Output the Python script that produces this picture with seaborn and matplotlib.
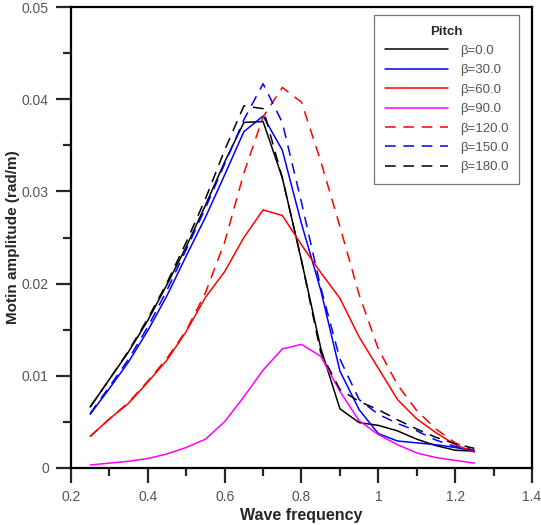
"""Pitch motion amplitude vs wave frequency for several headings."""

import matplotlib

matplotlib.use("Agg")
import matplotlib.pyplot as plt
import numpy as np
import pandas as pd
import seaborn as sns
from matplotlib.ticker import FixedLocator, MultipleLocator

freq = [0.25, 0.30, 0.35, 0.40, 0.45, 0.50, 0.55, 0.60, 0.65, 0.70, 0.75,
        0.80, 0.85, 0.90, 0.95, 1.00, 1.05, 1.10, 1.15, 1.20, 1.25]

beta_0 = [0.0066, 0.0096, 0.0126, 0.0160, 0.0199, 0.0240, 0.0285, 0.0332, 0.0375, 0.0376, 0.0315,
          0.0225, 0.0130, 0.0064, 0.0049, 0.0046, 0.0040, 0.0031, 0.0024, 0.0019, 0.0018]
beta_30 = [0.0058, 0.0086, 0.0115, 0.0149, 0.0187, 0.0230, 0.0272, 0.0318, 0.0365, 0.0382, 0.0345,
           0.0265, 0.0193, 0.0105, 0.0063, 0.0037, 0.0029, 0.0027, 0.0025, 0.0022, 0.0018]
beta_60 = [0.0034, 0.0053, 0.0070, 0.0093, 0.0117, 0.0148, 0.0185, 0.0213, 0.0250, 0.0280, 0.0274,
           0.0242, 0.0212, 0.0184, 0.0142, 0.0108, 0.0074, 0.0053, 0.0038, 0.0025, 0.0017]
beta_90 = [0.0003, 0.0005, 0.0007, 0.0010, 0.0015, 0.0022, 0.0031, 0.0050, 0.0077, 0.0106, 0.0129,
           0.0134, 0.0121, 0.0083, 0.0051, 0.0036, 0.0025, 0.0016, 0.0011, 0.0008, 0.0005]
beta_120 = [0.0034, 0.0053, 0.0071, 0.0094, 0.0119, 0.0149, 0.0190, 0.0245, 0.0320, 0.0381, 0.0413,
            0.0397, 0.0333, 0.0262, 0.0188, 0.0129, 0.0090, 0.0062, 0.0042, 0.0027, 0.0018]
beta_150 = [0.0059, 0.0088, 0.0118, 0.0153, 0.0193, 0.0237, 0.0282, 0.0330, 0.0378, 0.0417, 0.0375,
            0.0288, 0.0196, 0.0118, 0.0074, 0.0058, 0.0048, 0.0040, 0.0030, 0.0023, 0.0019]
beta_180 = [0.0066, 0.0096, 0.0127, 0.0162, 0.0201, 0.0245, 0.0292, 0.0345, 0.0393, 0.0390, 0.0315,
            0.0225, 0.0125, 0.0085, 0.0072, 0.0063, 0.0052, 0.0042, 0.0033, 0.0026, 0.0021]

labels = ["β=0.0", "β=30.0", "β=60.0", "β=90.0", "β=120.0", "β=150.0", "β=180.0"]
series = [beta_0, beta_30, beta_60, beta_90, beta_120, beta_150, beta_180]
colors = ["#000000", "#0000ff", "#ff0000", "#ff00ff", "#ff0000", "#0000ff", "#000000"]
dashed = [False, False, False, False, True, True, True]

x_ticks = [0.2, 0.4, 0.6, 0.8, 1.0, 1.2, 1.4]
x_tick_labels = ["0.2", "0.4", "0.6", "0.8", "1", "1.2", "1.4"]
y_ticks = [0, 0.01, 0.02, 0.03, 0.04, 0.05]
y_tick_labels = ["0", "0.01", "0.02", "0.03", "0.04", "0.05"]

sns.set_style("ticks")
plt.rcParams["font.family"] = ["Liberation Sans", "DejaVu Sans"]

df = pd.DataFrame(
    {
        "freq": np.tile(freq, len(series)),
        "amp": np.concatenate(series),
        "beta": np.repeat(labels, len(freq)),
    }
)

fig = plt.figure(figsize=(5.41, 5.25), dpi=100)
ax = fig.add_axes([0.1312, 0.1091, 0.8522, 0.8769])

for lab, col, dsh in zip(labels, colors, dashed):
    sub = df[df["beta"] == lab]
    sns.lineplot(
        data=sub,
        x="freq",
        y="amp",
        ax=ax,
        color=col,
        lw=1.1,
        linestyle=(0, (7, 5)) if dsh else "-",
        label=lab,
    )

ax.set_xlim(0.2, 1.4)
ax.set_ylim(0, 0.05)
ax.xaxis.set_major_locator(FixedLocator(x_ticks))
ax.set_xticklabels(x_tick_labels)
ax.yaxis.set_major_locator(FixedLocator(y_ticks))
ax.set_yticklabels(y_tick_labels)
ax.xaxis.set_minor_locator(MultipleLocator(0.1))
ax.yaxis.set_minor_locator(MultipleLocator(0.005))

ax.tick_params(which="major", direction="out", length=11, width=1.6,
               labelsize=10, labelcolor="#555555", pad=5)
ax.tick_params(which="minor", direction="out", length=6, width=1.6)
for side in ["left", "right", "top", "bottom"]:
    ax.spines[side].set_visible(True)
    ax.spines[side].set_linewidth(1.6)
    ax.spines[side].set_color("black")

ax.set_xlabel("Wave frequency", fontsize=11.5, fontweight="bold", labelpad=3)
ax.set_ylabel("Motin amplitude (rad/m)", fontsize=11, fontweight="bold", labelpad=1)

leg = ax.legend(
    title="Pitch",
    loc="upper right",
    bbox_to_anchor=(0.972, 0.983),
    borderaxespad=0,
    fontsize=9.5,
    handlelength=4.8,
    handletextpad=0.9,
    labelspacing=0.54,
    fancybox=False,
    frameon=True,
    borderpad=0.8,
)
leg.get_title().set_fontweight("bold")
leg.get_title().set_fontsize(9.5)
leg.get_frame().set_edgecolor("#555555")
leg.get_frame().set_linewidth(0.9)
for t in leg.get_texts():
    t.set_color("#555555")

fig.savefig("out.png", dpi=100)
